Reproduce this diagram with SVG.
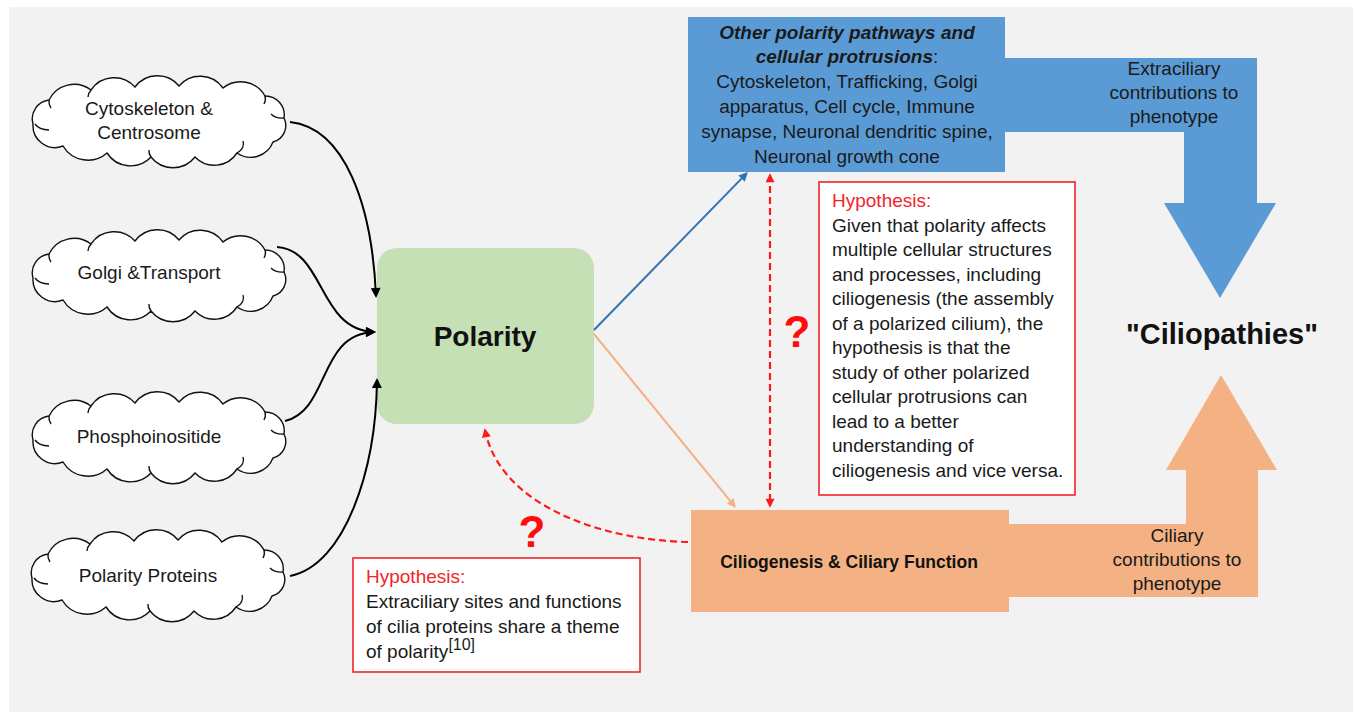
<svg xmlns="http://www.w3.org/2000/svg" xmlns:xlink="http://www.w3.org/1999/xlink" width="1355" height="713" viewBox="0 0 1355 713">
  <style>
    .txt { font-family: "Liberation Sans", Arial, sans-serif; font-size: 19px; fill: #1a1a1a; }
    .mid { text-anchor: middle; }
    .red { fill: #f2242a; }
    .bi { font-weight: bold; font-style: italic; }
    .cloud { fill: #ffffff; stroke: #111111; stroke-width: 1.4; }
    .hook { fill: none; stroke: #111111; stroke-width: 1.4; }
    .hyp { fill: #ffffff; stroke: #f2242a; stroke-width: 1.6; }
    .q { font-family: "Liberation Sans", Arial, sans-serif; font-size: 44px; font-weight: bold; fill: #ff0d0d; text-anchor: middle; }
    .blk { fill: none; stroke: #000000; stroke-width: 2; }
    .dash { fill: none; stroke: #ff1a1a; stroke-width: 2.2; stroke-dasharray: 7 4; }
  </style>
  <defs>
    <marker id="ah-black" viewBox="0 0 10 10" refX="8" refY="5" markerWidth="11" markerHeight="10" markerUnits="userSpaceOnUse" orient="auto-start-reverse">
      <path d="M0,0 L10,5 L0,10 z" fill="#000000"/>
    </marker>
    <marker id="ah-blue" viewBox="0 0 10 10" refX="8" refY="5" markerWidth="10" markerHeight="9" markerUnits="userSpaceOnUse" orient="auto-start-reverse">
      <path d="M0,0 L10,5 L0,10 z" fill="#2e75b6"/>
    </marker>
    <marker id="ah-orange" viewBox="0 0 10 10" refX="8" refY="5" markerWidth="10" markerHeight="9" markerUnits="userSpaceOnUse" orient="auto-start-reverse">
      <path d="M0,0 L10,5 L0,10 z" fill="#f4b183"/>
    </marker>
    <marker id="ah-red" viewBox="0 0 10 10" refX="8" refY="5" markerWidth="10" markerHeight="9" markerUnits="userSpaceOnUse" orient="auto-start-reverse">
      <path d="M0,0 L10,5 L0,10 z" fill="#ff1a1a"/>
    </marker>
    <!-- cloud outline, local box about 263 x 88 -->
    <g id="cloud">
      <path class="cloud" d="M6,46 A19,19 0 0 1 22,22 A28,28 0 0 1 64,12 A28,28 0 0 1 108,9 A28,28 0 0 1 152,8 A28,28 0 0 1 196,10 A28,28 0 0 1 238,18 A19,19 0 0 1 257,40 A17,17 0 0 1 246,64 A24,24 0 0 1 210,75 A27,27 0 0 1 168,79 A28,28 0 0 1 124,79 A28,28 0 0 1 80,75 A29,29 0 0 1 36,68 A22,22 0 0 1 6,46 Z"/>
      <path class="hook" d="M8,46 a16,10 0 0 0 14,6"/>
      <path class="hook" d="M22,22 a18,14 0 0 0 2,8"/>
      <path class="hook" d="M64,12 a20,14 0 0 0 -3,7"/>
      <path class="hook" d="M238,18 a20,14 0 0 1 -1,8"/>
      <path class="hook" d="M257,40 a14,10 0 0 1 -13,-4"/>
      <path class="hook" d="M210,75 a18,12 0 0 0 6,-12"/>
      <path class="hook" d="M124,79 a22,14 0 0 1 -2,-7"/>
    </g>
  </defs>

  <!-- page backdrop -->
  <rect x="0" y="0" width="1355" height="713" fill="#ffffff"/>
  <rect x="9" y="7" width="1344" height="705" fill="#f2f2f2"/>

  <!-- big contribution arrows -->
  <g id="extraciliary-arrow">
    <path d="M1005,58 L1257,58 L1257,203 L1276,203 L1220,298 L1164,203 L1184,203 L1184,132 L1005,132 Z" fill="#5b9bd5"/>
    <text class="txt mid" x="1174" y="75">Extraciliary</text>
    <text class="txt mid" x="1174" y="99">contributions to</text>
    <text class="txt mid" x="1174" y="123">phenotype</text>
  </g>
  <g id="ciliary-arrow">
    <path d="M1008,524 L1186,524 L1186,470 L1166,470 L1221,375 L1277,470 L1258,470 L1258,597 L1008,597 Z" fill="#f4b183"/>
    <text class="txt mid" x="1177" y="542">Ciliary</text>
    <text class="txt mid" x="1177" y="566">contributions to</text>
    <text class="txt mid" x="1177" y="590">phenotype</text>
  </g>

  <!-- source clouds -->
  <g id="cloud-cytoskeleton">
    <use href="#cloud" x="27" y="78"/>
    <text class="txt mid" x="149" y="115">Cytoskeleton &amp;</text>
    <text class="txt mid" x="149" y="139">Centrosome</text>
  </g>
  <g id="cloud-golgi">
    <use href="#cloud" x="27" y="232"/>
    <text class="txt mid" x="149" y="279">Golgi &amp;Transport</text>
  </g>
  <g id="cloud-phosphoinositide">
    <use href="#cloud" x="27" y="394"/>
    <text class="txt mid" x="149" y="443">Phosphoinositide</text>
  </g>
  <g id="cloud-polarity-proteins">
    <use href="#cloud" x="26" y="532"/>
    <text class="txt mid" x="148" y="582">Polarity Proteins</text>
  </g>

  <!-- central node -->
  <g id="polarity">
    <rect x="377" y="248" width="217" height="176" rx="20" ry="20" fill="#c5e0b4"/>
    <text x="485" y="346" font-family="Liberation Sans, Arial, sans-serif" font-size="28" font-weight="bold" fill="#111111" text-anchor="middle">Polarity</text>
  </g>

  <!-- other polarity pathways -->
  <g id="other-pathways">
    <rect x="688" y="17" width="317" height="155" fill="#5b9bd5"/>
    <text class="txt mid bi" x="847" y="39">Other polarity pathways and</text>
    <text class="txt mid" x="847" y="63"><tspan class="bi">cellular protrusions</tspan>:</text>
    <text class="txt mid" x="847" y="88">Cytoskeleton, Trafficking, Golgi</text>
    <text class="txt mid" x="847" y="113">apparatus, Cell cycle, Immune</text>
    <text class="txt mid" x="847" y="138">synapse, Neuronal dendritic spine,</text>
    <text class="txt mid" x="847" y="163">Neuronal growth cone</text>
  </g>

  <!-- ciliogenesis -->
  <g id="ciliogenesis">
    <rect x="691" y="510" width="318" height="102" fill="#f4b183"/>
    <text x="849" y="568" font-family="Liberation Sans, Arial, sans-serif" font-size="17.5" font-weight="bold" fill="#111111" text-anchor="middle">Ciliogenesis &amp; Ciliary Function</text>
  </g>

  <!-- outcome label -->
  <g id="ciliopathies">
    <text x="1222" y="344" font-family="Liberation Sans, Arial, sans-serif" font-size="29" font-weight="bold" fill="#111111" text-anchor="middle">"Ciliopathies"</text>
  </g>

  <!-- hypothesis notes -->
  <g id="hypothesis-right">
    <rect class="hyp" x="819" y="182" width="256" height="313"/>
    <text class="txt red" x="832" y="207">Hypothesis:</text>
    <text class="txt" x="832" y="232">Given that polarity affects</text>
    <text class="txt" x="832" y="256">multiple cellular structures</text>
    <text class="txt" x="832" y="281">and processes, including</text>
    <text class="txt" x="832" y="305">ciliogenesis (the assembly</text>
    <text class="txt" x="832" y="330">of a polarized cilium), the</text>
    <text class="txt" x="832" y="354">hypothesis is that the</text>
    <text class="txt" x="832" y="379">study of other polarized</text>
    <text class="txt" x="832" y="403">cellular protrusions can</text>
    <text class="txt" x="832" y="428">lead to a better</text>
    <text class="txt" x="832" y="452">understanding of</text>
    <text class="txt" x="832" y="477">ciliogenesis and vice versa.</text>
  </g>
  <g id="hypothesis-left">
    <rect class="hyp" x="353" y="558" width="287" height="114"/>
    <text class="txt red" x="366" y="583">Hypothesis:</text>
    <text class="txt" x="366" y="608">Extraciliary sites and functions</text>
    <text class="txt" x="366" y="633">of cilia proteins share a theme</text>
    <text class="txt" x="366" y="658">of polarity<tspan font-size="16" dy="-8">[10]</tspan></text>
  </g>

  <!-- question marks -->
  <g id="question-marks">
    <text class="q" x="797" y="347">?</text>
    <text class="q" x="532" y="547">?</text>
  </g>

  <!-- connectors -->
  <g id="connectors">
    <path class="blk" d="M290,122 C345,128 372,205 376,296" marker-end="url(#ah-black)"/>
    <path class="blk" d="M277,247 C325,250 318,330 374,332" marker-end="url(#ah-black)"/>
    <path class="blk" d="M285,421 C330,410 318,334 374,332" marker-end="url(#ah-black)"/>
    <path class="blk" d="M290,576 C345,565 376,470 377,380" marker-end="url(#ah-black)"/>
    <path d="M594,330 L746.6,173.4" fill="none" stroke="#2e75b6" stroke-width="2" marker-end="url(#ah-blue)"/>
    <path d="M594,334 L734.7,506.4" fill="none" stroke="#f4b183" stroke-width="2" marker-end="url(#ah-orange)"/>
    <path class="dash" d="M770,175 L770,506" marker-start="url(#ah-red)" marker-end="url(#ah-red)"/>
    <path class="dash" d="M688,542 C600,540 500,505 485,430" marker-end="url(#ah-red)"/>
  </g>
</svg>
